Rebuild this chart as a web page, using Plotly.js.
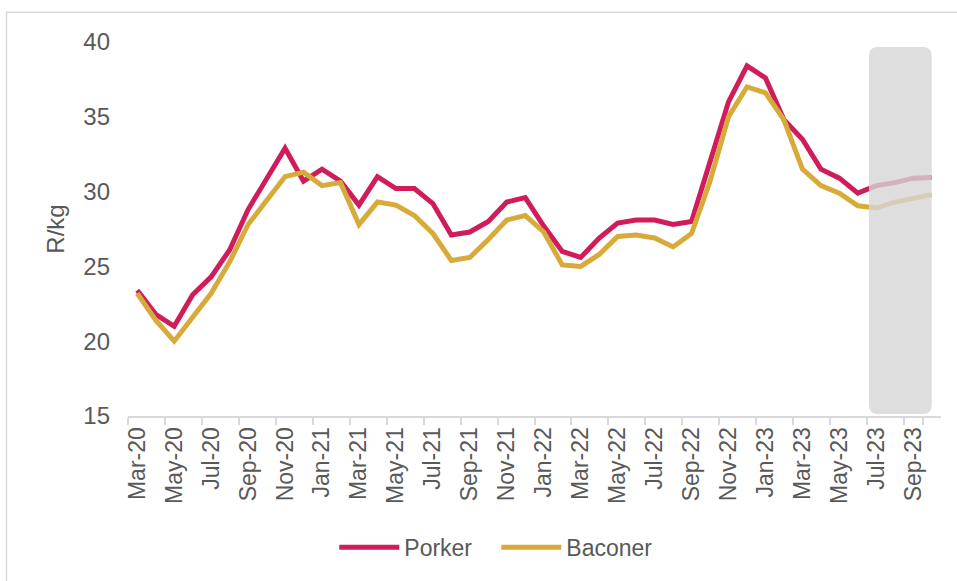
<!DOCTYPE html>
<html>
<head>
<meta charset="utf-8">
<script src="https://cdn.plot.ly/plotly-3.0.1.min.js"></script>
<style>
  html, body { margin: 0; padding: 0; background: #ffffff; }
  #chart { width: 957px; height: 581px; }
</style>
</head>
<body>
<div id="chart"></div>
<script>
// Categories (monthly)
const months = [
  "Mar-20","Apr-20","May-20","Jun-20","Jul-20","Aug-20","Sep-20","Oct-20","Nov-20","Dec-20",
  "Jan-21","Feb-21","Mar-21","Apr-21","May-21","Jun-21","Jul-21","Aug-21","Sep-21","Oct-21","Nov-21","Dec-21",
  "Jan-22","Feb-22","Mar-22","Apr-22","May-22","Jun-22","Jul-22","Aug-22","Sep-22","Oct-22","Nov-22","Dec-22",
  "Jan-23","Feb-23","Mar-23","Apr-23","May-23","Jun-23","Jul-23","Aug-23","Sep-23","Oct-23"
];

// Series values (R/kg)
const porker = [
  23.4, 21.8, 21.0, 23.1, 24.3, 26.1, 28.8, 30.9, 32.9, 30.7,
  31.5, 30.7, 29.1, 31.0, 30.2, 30.2, 29.2, 27.1, 27.3, 28.0, 29.3, 29.6,
  27.7, 26.0, 25.6, 26.9, 27.9, 28.1, 28.1, 27.8, 28.0, 32.0, 36.0, 38.4,
  37.6, 34.8, 33.5, 31.5, 30.9, 29.9, 30.4, 30.6, 30.9, 30.95
];
const baconer = [
  23.2, 21.4, 20.0, 21.6, 23.2, 25.3, 27.8, 29.4, 31.0, 31.3,
  30.4, 30.6, 27.8, 29.3, 29.1, 28.4, 27.2, 25.4, 25.6, 26.8, 28.1, 28.4,
  27.3, 25.1, 25.0, 25.8, 27.0, 27.1, 26.9, 26.3, 27.2, 30.7, 35.0, 37.0,
  36.6, 34.8, 31.5, 30.4, 29.9, 29.05, 28.9, 29.3, 29.55, 29.8
];

// Tick labels shown every second month
const tickLabels = months.filter((m, i) => i % 2 === 0);
const yTicks = [15, 20, 25, 30, 35, 40];

// Forecast band (category index range and value range)
const bandStart = 39.6, bandEnd = 43.0;
const bandLow = 15.13, bandHigh = 39.67;

const font = "Liberation Sans, Arial, sans-serif";
const textColor = "#595959";
const yMin = 15, yMax = 40;
const nCat = months.length;

// paper-coordinate helpers for the rounded band
const px = i => (i + 0.5) / nCat;
const py = v => (v - yMin) / (yMax - yMin);
const rx = 9 / 813, ry = 9 / 376;
const x0 = px(bandStart), x1 = px(bandEnd), y0 = py(bandLow), y1 = py(bandHigh);
const bandPath =
  `M${x0 + rx},${y1} L${x1 - rx},${y1} Q${x1},${y1} ${x1},${y1 - ry} ` +
  `L${x1},${y0 + ry} Q${x1},${y0} ${x1 - rx},${y0} L${x0 + rx},${y0} ` +
  `Q${x0},${y0} ${x0},${y0 + ry} L${x0},${y1 - ry} Q${x0},${y1} ${x0 + rx},${y1} Z`;

const traces = [
  { x: months, y: porker, name: "Porker", type: "scatter", mode: "lines",
    line: { color: "#D01C5B", width: 5 } },
  { x: months, y: baconer, name: "Baconer", type: "scatter", mode: "lines",
    line: { color: "#D7AB3A", width: 5 } }
];

const layout = {
  width: 957, height: 581,
  margin: { l: 128, r: 16, t: 42, b: 163, pad: 0 },
  paper_bgcolor: "#ffffff", plot_bgcolor: "#ffffff",
  font: { family: font, color: textColor, size: 22 },
  showlegend: true,
  legend: {
    orientation: "h", x: 0.453, xanchor: "center", y: -0.351, yanchor: "middle",
    font: { size: 23, color: textColor }, itemwidth: 60, traceorder: "normal",
    entrywidth: 87, entrywidthmode: "pixels"
  },
  xaxis: {
    type: "category", range: [-0.5, nCat - 0.5],
    tickmode: "array", tickvals: tickLabels, ticktext: tickLabels,
    tickson: "boundaries", ticks: "outside", ticklen: 7, tickwidth: 2, tickcolor: "#d9d9d9",
    showline: true, linecolor: "#d9d9d9", linewidth: 2,
    showgrid: false, zeroline: false, tickangle: -90,
    tickfont: { size: 23, color: textColor }, automargin: false, fixedrange: true
  },
  yaxis: {
    range: [yMin, yMax], tickmode: "array", tickvals: yTicks,
    ticks: "", showline: false, showgrid: false, zeroline: false,
    ticklabelstandoff: 17,
    tickfont: { size: 24, color: textColor },
    title: { text: "R/kg", font: { size: 24, color: textColor }, standoff: 11 },
    automargin: false, fixedrange: true
  },
  shapes: [
    { type: "path", xref: "paper", yref: "paper", path: bandPath,
      fillcolor: "#d6d6d6", opacity: 0.8, line: { width: 0 }, layer: "above" },
    { type: "rect", xref: "paper", yref: "paper",
      x0: -0.1494, x1: 1.2, y0: -0.7, y1: 1.0798,
      line: { color: "#d9d9d9", width: 1.5 }, fillcolor: "rgba(0,0,0,0)", layer: "below" }
  ]
};

Plotly.newPlot("chart", traces, layout, { displayModeBar: false, staticPlot: true });
</script>
</body>
</html>
